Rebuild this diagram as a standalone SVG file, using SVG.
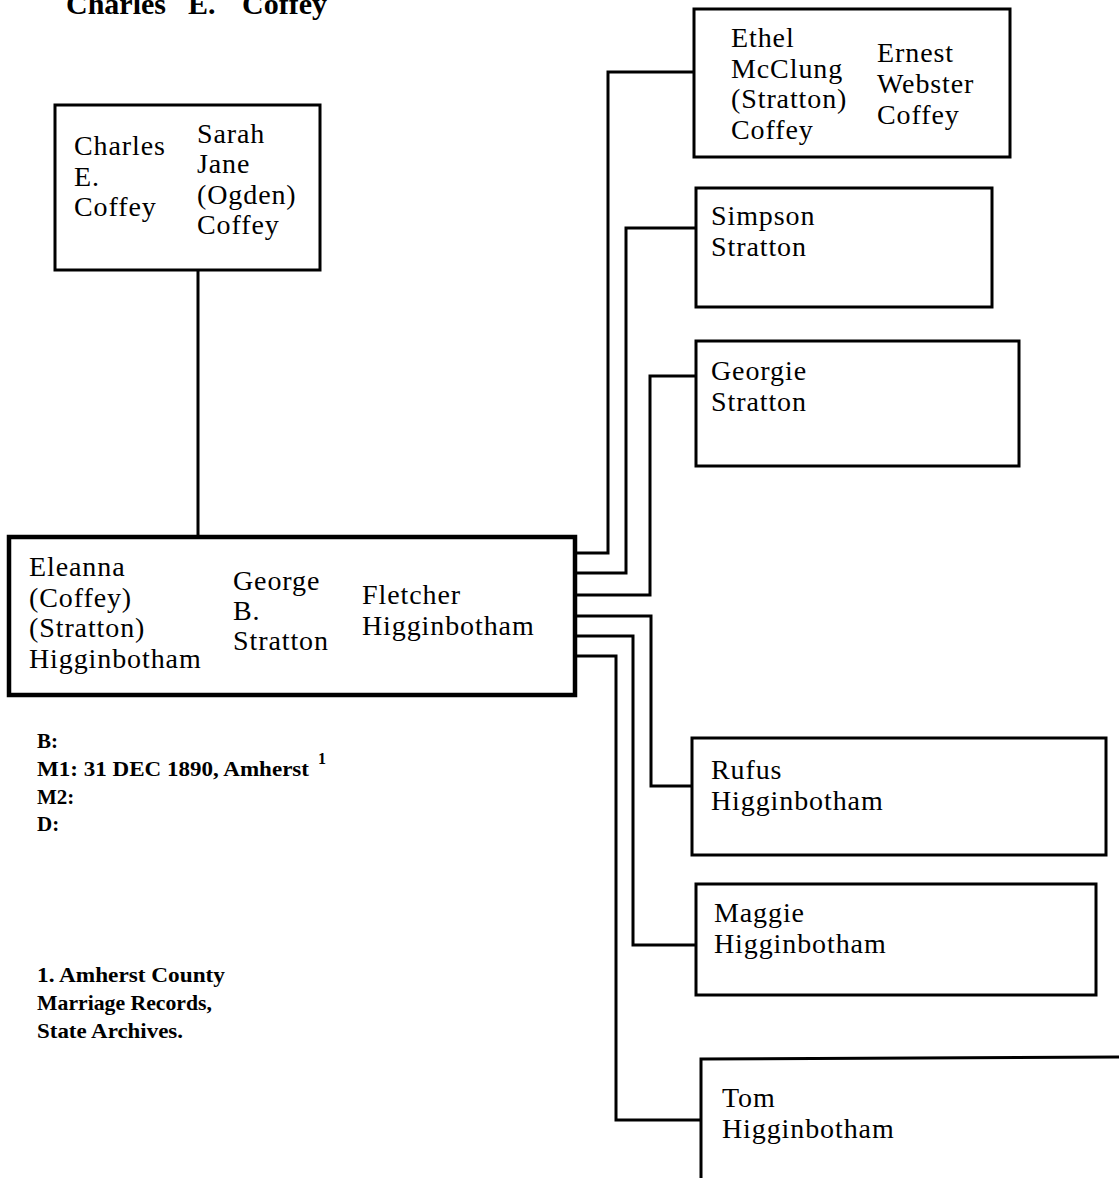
<svg xmlns="http://www.w3.org/2000/svg" width="1119" height="1178" viewBox="0 0 1119 1178">
<style>
.box{fill:#fff;stroke:#000;stroke-width:3}
.main{fill:#fff;stroke:#000;stroke-width:4.5}
.c{fill:none;stroke:#000;stroke-width:3;stroke-linejoin:miter}
.n{font-family:"Liberation Serif",serif;font-size:28px;letter-spacing:0.9px;fill:#000}
.s{font-family:"Liberation Serif",serif;font-size:21px;font-weight:bold;fill:#000}
.t{font-family:"Liberation Serif",serif;font-size:30px;font-weight:bold;fill:#000}
</style>
<rect width="1119" height="1178" fill="#fff"/>
<text class="t" y="14"><tspan x="66">Charles</tspan><tspan x="188">E.</tspan><tspan x="242">Coffey</tspan></text>
<g id="connectors">
<line class="c" x1="198" y1="270" x2="198" y2="537"/>
<polyline class="c" points="575,553 608,553 608,72 694,72"/>
<polyline class="c" points="575,573 626,573 626,228 696,228"/>
<polyline class="c" points="575,595 650,595 650,376 696,376"/>
<polyline class="c" points="575,616 651,616 651,786 692,786"/>
<polyline class="c" points="575,636 633,636 633,945 696,945"/>
<polyline class="c" points="575,656 616,656 616,1120 701,1120"/>
</g>
<g id="node-charles-sarah">
<rect class="box" x="55" y="105" width="265" height="165"/>
<text class="n"><tspan x="74" y="155">Charles</tspan><tspan x="74" y="186">E.</tspan><tspan x="74" y="216">Coffey</tspan></text>
<text class="n"><tspan x="197" y="143">Sarah</tspan><tspan x="197" y="173">Jane</tspan><tspan x="197" y="204">(Ogden)</tspan><tspan x="197" y="234">Coffey</tspan></text>
</g>
<g id="node-eleanna">
<rect class="main" x="9" y="537" width="566" height="158"/>
<text class="n"><tspan x="29" y="576">Eleanna</tspan><tspan x="29" y="607">(Coffey)</tspan><tspan x="29" y="637">(Stratton)</tspan><tspan x="29" y="668">Higginbotham</tspan></text>
<text class="n"><tspan x="233" y="590">George</tspan><tspan x="233" y="620">B.</tspan><tspan x="233" y="650">Stratton</tspan></text>
<text class="n"><tspan x="362" y="604">Fletcher</tspan><tspan x="362" y="635">Higginbotham</tspan></text>
</g>
<g id="node-ethel">
<rect class="box" x="694" y="9" width="316" height="148"/>
<text class="n"><tspan x="731" y="47">Ethel</tspan><tspan x="731" y="78">McClung</tspan><tspan x="731" y="108">(Stratton)</tspan><tspan x="731" y="139">Coffey</tspan></text>
<text class="n"><tspan x="877" y="62">Ernest</tspan><tspan x="877" y="93">Webster</tspan><tspan x="877" y="124">Coffey</tspan></text>
</g>
<g id="node-simpson">
<rect class="box" x="696" y="188" width="296" height="119"/>
<text class="n"><tspan x="711" y="225">Simpson</tspan><tspan x="711" y="256">Stratton</tspan></text>
</g>
<g id="node-georgie">
<rect class="box" x="696" y="341" width="323" height="125"/>
<text class="n"><tspan x="711" y="380">Georgie</tspan><tspan x="711" y="411">Stratton</tspan></text>
</g>
<g id="node-rufus">
<rect class="box" x="692" y="738" width="414" height="117"/>
<text class="n"><tspan x="711" y="779">Rufus</tspan><tspan x="711" y="810">Higginbotham</tspan></text>
</g>
<g id="node-maggie">
<rect class="box" x="696" y="884" width="400" height="111"/>
<text class="n"><tspan x="714" y="922">Maggie</tspan><tspan x="714" y="953">Higginbotham</tspan></text>
</g>
<g id="node-tom">
<polyline class="c" points="701,1190 701,1059 1125,1057"/>
<text class="n"><tspan x="722" y="1107">Tom</tspan><tspan x="722" y="1138">Higginbotham</tspan></text>
</g>
<g id="notes">
<text class="s" x="37" y="748">B:</text>
<text class="s" x="37" y="776" textLength="272" lengthAdjust="spacingAndGlyphs">M1: 31 DEC 1890, Amherst</text>
<text class="s" x="37" y="804">M2:</text>
<text class="s" x="37" y="831">D:</text>
<text class="s" x="318" y="764" style="font-size:16px">1</text>
<text class="s" x="37" y="982" textLength="188" lengthAdjust="spacingAndGlyphs">1. Amherst County</text>
<text class="s" x="37" y="1010" textLength="175" lengthAdjust="spacingAndGlyphs">Marriage Records,</text>
<text class="s" x="37" y="1038" textLength="146" lengthAdjust="spacingAndGlyphs">State Archives.</text>
</g>
</svg>
